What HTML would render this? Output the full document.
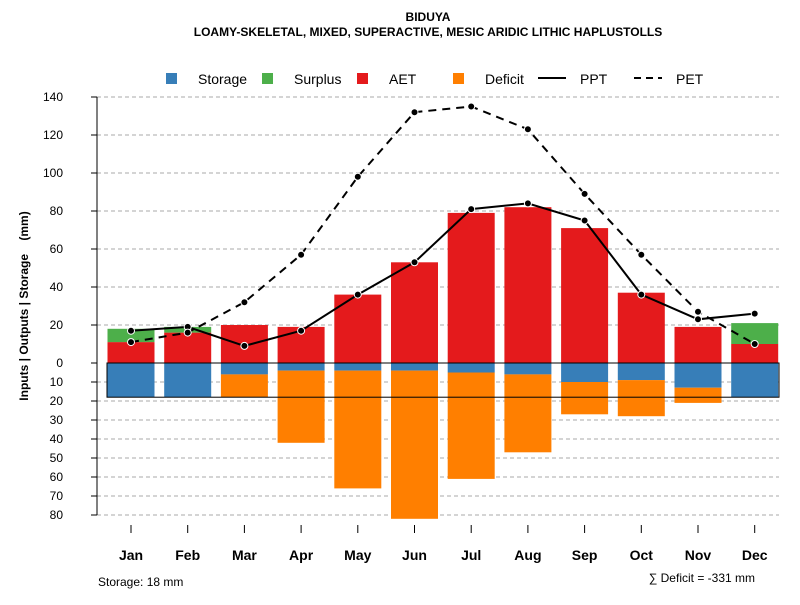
<!DOCTYPE html>
<html><head><meta charset="utf-8"><style>
body{margin:0;background:#fff;font-family:"Liberation Sans",sans-serif}
svg text{font-family:"Liberation Sans",sans-serif}
</style></head><body>
<svg id="c" width="800" height="600" xmlns="http://www.w3.org/2000/svg">
<text x="428" y="21" text-anchor="middle" font-size="12" font-weight="bold">BIDUYA</text>
<text x="428" y="36" text-anchor="middle" font-size="12" font-weight="bold">LOAMY-SKELETAL, MIXED, SUPERACTIVE, MESIC ARIDIC LITHIC HAPLUSTOLLS</text>
<g id="legend">
<rect x="166" y="73" width="11" height="11" fill="#377EB8"/><text x="198" y="84" font-size="14">Storage</text>
<rect x="262" y="73" width="11" height="11" fill="#4DAF4A"/><text x="294" y="84" font-size="14">Surplus</text>
<rect x="357" y="73" width="11" height="11" fill="#E41A1C"/><text x="389" y="84" font-size="14">AET</text>
<rect x="453" y="73" width="11" height="11" fill="#FF7F00"/><text x="485" y="84" font-size="14">Deficit</text>
<line x1="538" y1="78" x2="566" y2="78" stroke="#000" stroke-width="2"/><text x="580" y="84" font-size="14">PPT</text>
<line x1="634" y1="78" x2="662" y2="78" stroke="#000" stroke-width="2" stroke-dasharray="7,5"/><text x="676" y="84" font-size="14">PET</text>
</g>
<g id="grid"></g><g id="bars"></g><g id="lines"></g><g id="axes"></g>
<text x="28" y="306" font-size="12" font-weight="bold" style="white-space:pre" transform="rotate(-90 28 306)" text-anchor="middle">Inputs | Outputs | Storage    (mm)</text>
<text x="98" y="586" font-size="12">Storage: 18 mm</text>
<text x="755" y="582" font-size="12" text-anchor="end">∑ Deficit = -331 mm</text>
</svg>
<script>
const months=["Jan","Feb","Mar","Apr","May","Jun","Jul","Aug","Sep","Oct","Nov","Dec"];
const aet=[11,16,20,19,36,53,79,82,71,37,19,10];
const surplus=[7,3,0,0,0,0,0,0,0,0,0,11];
const storage=[18,18,6,4,4,4,5,6,10,9,13,18];
const deficit=[0,0,12,38,62,78,56,41,17,19,8,0];
const ppt=[17,19,9,17,36,53,81,84,75,36,23,26];
const pet=[11,16,32,57,98,132,135,123,89,57,27,10];
const posTicks=[0,20,40,60,80,100,120,140];
const negTicks=[10,20,30,40,50,60,70,80];
const NS="http://www.w3.org/2000/svg";
const y=v=>363-v*1.9;
const x=i=>131+i*56.7;
const bw=47;
function mk(tag,attrs,parent){const e=document.createElementNS(NS,tag);for(const k in attrs)e.setAttribute(k,attrs[k]);document.getElementById(parent).appendChild(e);return e;}
posTicks.concat(negTicks.map(v=>-v)).forEach(v=>{
 if(v!==0){const g=mk('line',{x1:97,x2:779,y1:y(v),y2:y(v),stroke:'#aaa','stroke-dasharray':'4,3'},'grid');
 
 }
 const t=mk('line',{x1:91,x2:97,y1:y(v),y2:y(v),stroke:'#000'},'axes');
 
 
 const l=mk('text',{x:63,y:y(v)+4,'font-size':12,'text-anchor':'end'},'axes');l.textContent=Math.abs(v);
 
 
});
mk('line',{x1:97,x2:97,y1:y(140),y2:y(-80),stroke:'#000'},'axes');
months.forEach((m,i)=>{
 const cx=x(i);
 let r=mk('rect',{x:cx-bw/2,y:y(aet[i]),width:bw,height:aet[i]*1.9,fill:'#E41A1C'},'bars');
 
 
 r=mk('rect',{x:cx-bw/2,y:y(aet[i]+surplus[i]),width:bw,height:surplus[i]*1.9,fill:'#4DAF4A'},'bars');
 
 
 r=mk('rect',{x:cx-bw/2,y:363,width:bw,height:storage[i]*1.9,fill:'#377EB8'},'bars');
 
 
 r=mk('rect',{x:cx-bw/2,y:y(-storage[i]),width:bw,height:deficit[i]*1.9,fill:'#FF7F00'},'bars');
 
 
 const t=mk('line',{x1:cx,x2:cx,y1:525,y2:533,stroke:'#000'},'axes');
 
 
 const l=mk('text',{x:cx,y:560,'font-size':14,'font-weight':'bold','text-anchor':'middle'},'axes');l.textContent=m;
 
 
});
let br=mk('rect',{x:107,y:363,width:672,height:18*1.9,fill:'none',stroke:'#000'},'bars');


let pl=mk('polyline',{points:ppt.map((v,i)=>x(i)+','+y(v)).join(' '),fill:'none',stroke:'#000','stroke-width':2},'lines');


let el=mk('polyline',{points:pet.map((v,i)=>x(i)+','+y(v)).join(' '),fill:'none',stroke:'#000','stroke-width':2,'stroke-dasharray':'8,6'},'lines');


[ppt,pet].forEach((s,k)=>s.forEach((v,i)=>{const c=mk('circle',{cx:x(i),cy:y(v),r:3.5,fill:'#000',stroke:'#fff','stroke-width':1},'lines');
 
 }));
</script>
</body></html>
